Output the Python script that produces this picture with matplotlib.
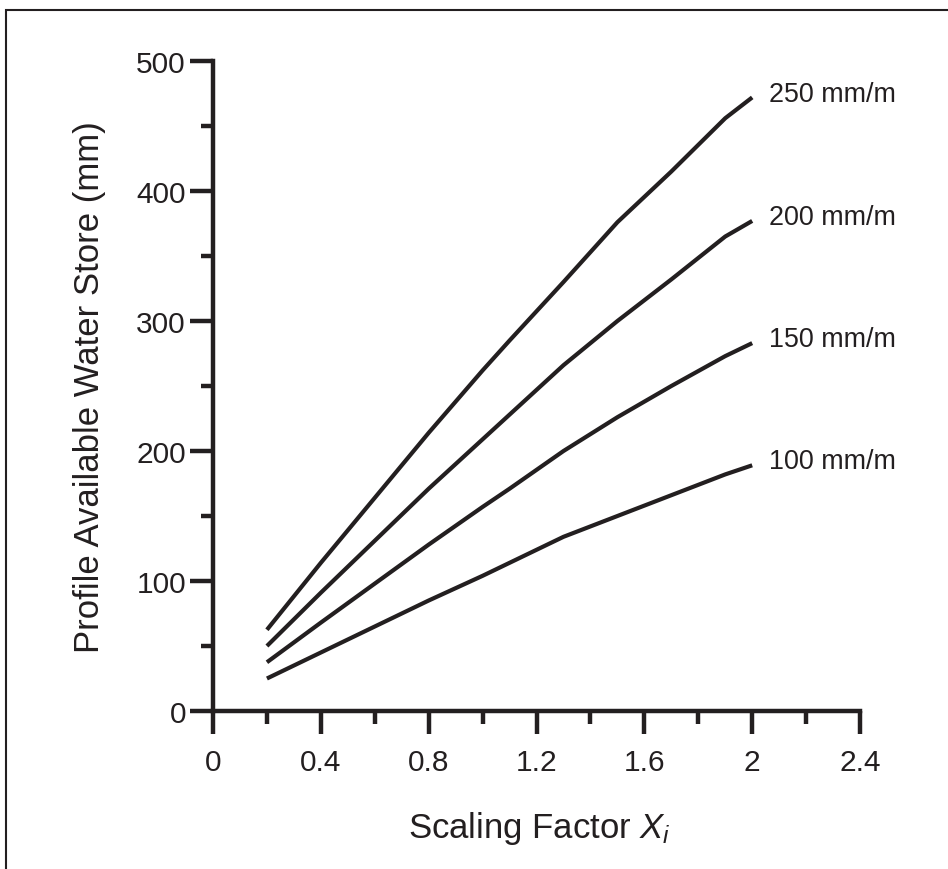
import matplotlib
matplotlib.use('Agg')
import matplotlib.pyplot as plt
from matplotlib.patches import Rectangle
from matplotlib.ticker import MultipleLocator

plt.rcParams['font.family'] = ['Liberation Sans', 'DejaVu Sans']
plt.rcParams['mathtext.fontset'] = 'custom'
plt.rcParams['mathtext.rm'] = 'Liberation Sans'
plt.rcParams['mathtext.it'] = 'Liberation Sans:italic'

INK = '#231f20'

# Scaling factor nodes and profile available water store (mm) per AWC class
scaling_factor = [0.2, 0.4, 0.6, 0.8, 1.0, 1.1, 1.3, 1.5, 1.7, 1.9, 2.0]
awc_100 = [25, 45, 65, 85, 104, 114, 134, 150, 166, 182, 189]
awc_150 = [37.5, 68, 98, 128, 157, 171, 200, 226, 250, 273, 283]
awc_200 = [50, 91, 131, 171, 209, 228, 266, 300, 332, 365, 377]
awc_250 = [62.5, 114, 164, 214, 262, 285, 330, 376, 415, 456, 472]
series_labels = ['100 mm/m', '150 mm/m', '200 mm/m', '250 mm/m']

fig = plt.figure(figsize=(9.48, 8.7), dpi=100)
ax = fig.add_axes([0.2247, 0.1816, 0.6825, 0.7471])

for vals, lab in zip([awc_100, awc_150, awc_200, awc_250], series_labels):
    ax.plot(scaling_factor, vals, color=INK, lw=3.0, solid_capstyle='butt')
    ax.text(2.063, vals[-1] + 3, lab, fontsize=19.4, color=INK,
            va='center', ha='left')

ax.set_xlim(0, 2.4)
ax.set_ylim(0, 500)
ax.xaxis.set_major_locator(MultipleLocator(0.4))
ax.xaxis.set_minor_locator(MultipleLocator(0.2))
ax.yaxis.set_major_locator(MultipleLocator(100))
ax.yaxis.set_minor_locator(MultipleLocator(50))
ax.set_xticks([0, 0.4, 0.8, 1.2, 1.6, 2.0, 2.4])
ax.set_xticklabels(['0', '0.4', '0.8', '1.2', '1.6', '2', '2.4'])

for s in ['top', 'right']:
    ax.spines[s].set_visible(False)
for s in ['left', 'bottom']:
    ax.spines[s].set_linewidth(3.2)
    ax.spines[s].set_color(INK)

ax.tick_params(which='major', direction='out', length=16.5, width=3.2,
               color=INK, labelsize=21.5, labelcolor=INK)
ax.tick_params(which='minor', direction='out', length=9, width=3.2, color=INK)
ax.tick_params(axis='y', which='major', pad=3)
ax.tick_params(axis='x', which='major', pad=10)

ax.set_ylabel('Profile Available Water Store (mm)', fontsize=25, color=INK,
              labelpad=22)
ax.set_xlabel('Scaling Factor $X_i$', fontsize=25, color=INK)
ax.xaxis.set_label_coords(0.505, -0.15)

# frame round the figure
fig.patches.append(Rectangle((6 / 948, -0.1), 2, 1 - 11 / 870 + 0.1,
                             transform=fig.transFigure, fill=False,
                             edgecolor=INK, lw=1.5))

fig.savefig('out.png', dpi=100)
